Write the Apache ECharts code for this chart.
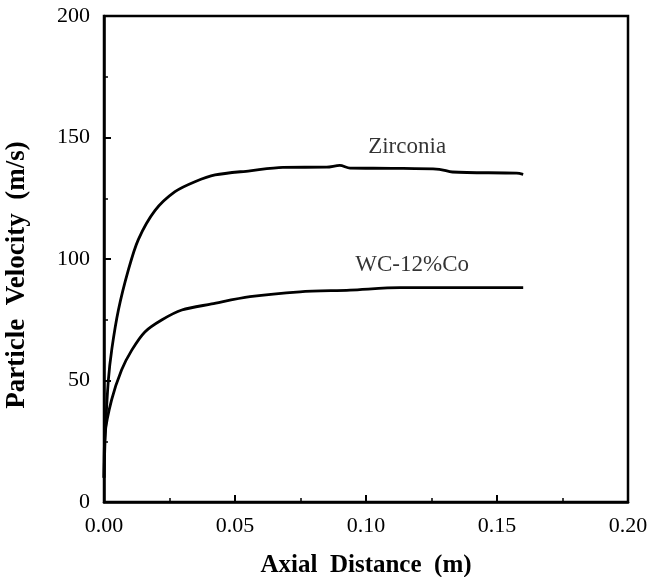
<!DOCTYPE html>
<html>
<head>
    <meta charset="utf-8">
    <script src="https://cdn.jsdelivr.net/npm/echarts@6/dist/echarts.min.js"></script>
</head>
<body style="margin:0;background:#fff">
<div id="main" style="width:649px;height:577px;"></div>
<script>
    // Zirconia curve: [axial distance (m), velocity (m/s)]
    var zirconia = [
        [0, 10], [0.0005, 28], [0.00165, 50], [0.003, 63], [0.0055, 79], [0.0093, 95.5],
        [0.0131, 108], [0.0195, 120], [0.0271, 127.7], [0.0347, 131.8], [0.0424, 134.6],
        [0.0557, 136.3], [0.0683, 137.7], [0.085, 137.8], [0.09, 138.5], [0.0939, 137.4],
        [0.11, 137.3], [0.128, 136.9], [0.133, 135.8], [0.1575, 135.3], [0.16, 134.8]
    ];
    // WC-12%Co curve
    var wcco = [
        [0, 10], [0.0004, 28], [0.0029, 42], [0.0067, 54.3], [0.0106, 62.5], [0.0156, 70],
        [0.022, 74.9], [0.0297, 79], [0.0411, 81.5], [0.0557, 84.5], [0.0748, 86.5],
        [0.0939, 87.2], [0.113, 88.2], [0.16, 88.2]
    ];
    var curveLabels = [
        {name: 'Zirconia', value: [0.1157, 146]},
        {name: 'WC-12%Co', value: [0.1176, 97.5]}
    ];

    var myChart = echarts.init(document.getElementById('main'));
    var font = 'Liberation Serif';

    var option = {
        animation: false,
        grid: {
            left: 104, right: 21, top: 16, bottom: 75,
            outerBoundsMode: 'none',
            show: true, borderColor: '#000', borderWidth: 2.5
        },
        xAxis: {
            type: 'value',
            min: 0, max: 0.2, interval: 0.05,
            name: 'Axial  Distance  (m)',
            nameLocation: 'middle',
            nameGap: 51,
            nameTextStyle: {fontFamily: font, fontWeight: 'bold', fontSize: 25, color: '#000'},
            axisLine: {lineStyle: {color: '#000', width: 2.5}},
            axisTick: {inside: true, length: 7, lineStyle: {color: '#000', width: 2}},
            minorTick: {show: true, splitNumber: 2, length: 4, lineStyle: {color: '#000', width: 1.5}},
            splitLine: {show: false},
            axisLabel: {
                fontFamily: font, fontSize: 22, margin: 13, color: '#000',
                formatter: function (v) { return v.toFixed(2); }
            }
        },
        yAxis: {
            type: 'value',
            min: 0, max: 200, interval: 50,
            name: 'Particle  Velocity  (m/s)',
            nameLocation: 'middle',
            nameGap: 73,
            nameTextStyle: {
                fontFamily: font, fontWeight: 'bold', fontSize: 27, color: '#000',
                padding: [0, 32, 0, 0]
            },
            axisLine: {lineStyle: {color: '#000', width: 2.5}},
            axisTick: {inside: true, length: 7, lineStyle: {color: '#000', width: 2}},
            minorTick: {show: true, splitNumber: 2, length: 4, lineStyle: {color: '#000', width: 1.5}},
            splitLine: {show: false},
            axisLabel: {fontFamily: font, fontSize: 22, margin: 14, color: '#000'}
        },
        series: [
            {
                name: 'Zirconia', type: 'line', data: zirconia,
                showSymbol: false, smooth: 0.3,
                lineStyle: {color: '#000', width: 2.8}
            },
            {
                name: 'WC-12%Co', type: 'line', data: wcco,
                showSymbol: false, smooth: 0.3,
                lineStyle: {color: '#000', width: 2.8}
            },
            {
                type: 'scatter', data: curveLabels, symbolSize: 0,
                label: {
                    show: true, position: 'inside', formatter: '{b}',
                    fontFamily: font, fontSize: 23, color: '#000'
                }
            }
        ]
    };
    myChart.setOption(option);
</script>
</body>
</html>
